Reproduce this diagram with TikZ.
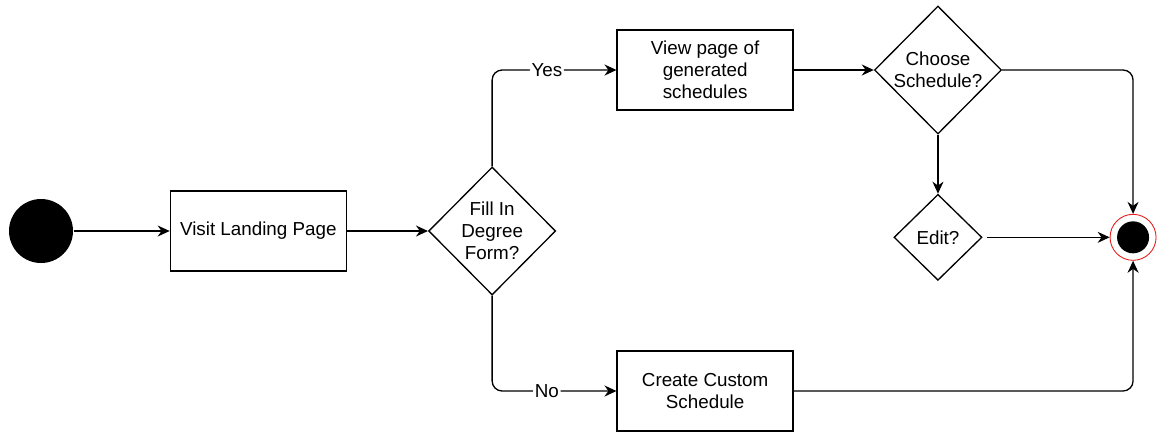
\documentclass[tikz,border=0pt]{standalone}
\usepackage{fontspec}
\setmainfont{Liberation Sans}
\usepackage{tikz}
\usetikzlibrary{arrows.meta, positioning, shapes.geometric}
\definecolor{endred}{RGB}{230,30,30}

\begin{document}
\begin{tikzpicture}[
      font=\fontsize{10.7}{12.6}\selectfont,
      line width=0.75pt,
      block/.style={rectangle, draw, minimum width=3.52cm, minimum height=1.6cm,
                    align=center},
      decision/.style={diamond, draw, minimum width=2.54cm, minimum height=2.56cm,
                       inner sep=0pt, align=center},
      arr/.style={-{Stealth[length=0.24cm, width=0.22cm]}, rounded corners=0.2cm},
      lbl/.style={fill=white, inner sep=1pt}
    ]
    \useasboundingbox (0,0) rectangle (23.22,-8.62);

    \node[circle, fill=black, minimum size=1.28cm, inner sep=0pt] (start) at (0.82,-4.62) {};
    \node[block] (visit) [right=1.92cm of start] {Visit Landing Page};
    \node[decision] (fill) [right=1.62cm of visit] {Fill In\\Degree\\Form?};
    \node[block] (view) at ([xshift=4.26cm, yshift=3.22cm]fill.center)
      {View page of\\generated\\schedules};
    \node[block] (create) at ([xshift=4.26cm, yshift=-3.2cm]fill.center)
      {Create Custom\\Schedule};
    \node[decision] (choose) [right=1.6cm of view] {Choose\\Schedule?};
    \node[decision, minimum width=1.76cm, minimum height=1.72cm] (edit)
      [below=1.18cm of choose] {Edit?};
    \node[circle, draw=endred, line width=0.5pt, fill=white, minimum size=0.92cm,
          inner sep=0pt] (end) [right=2.54cm of edit] {};
    \node[circle, fill=black, minimum size=0.64cm, inner sep=0pt] at (end.center) {};

    \draw[arr] (start) -- (visit);
    \draw[arr] (visit) -- (fill);
    \draw[arr] (fill.north) |- node[lbl, pos=0.72] {Yes} (view.west);
    \draw[arr] (fill.south) |- node[lbl, pos=0.72] {No} (create.west);
    \draw[arr] (view) -- (choose);
    \draw[arr] (choose) -- (edit);
    \draw[arr] (choose.east) -| (end.north);
    \draw[arr, shorten <=0.08cm] (edit.east) -- (end.west);
    \draw[arr] (create.east) -| (end.south);
  \end{tikzpicture}
\end{document}
